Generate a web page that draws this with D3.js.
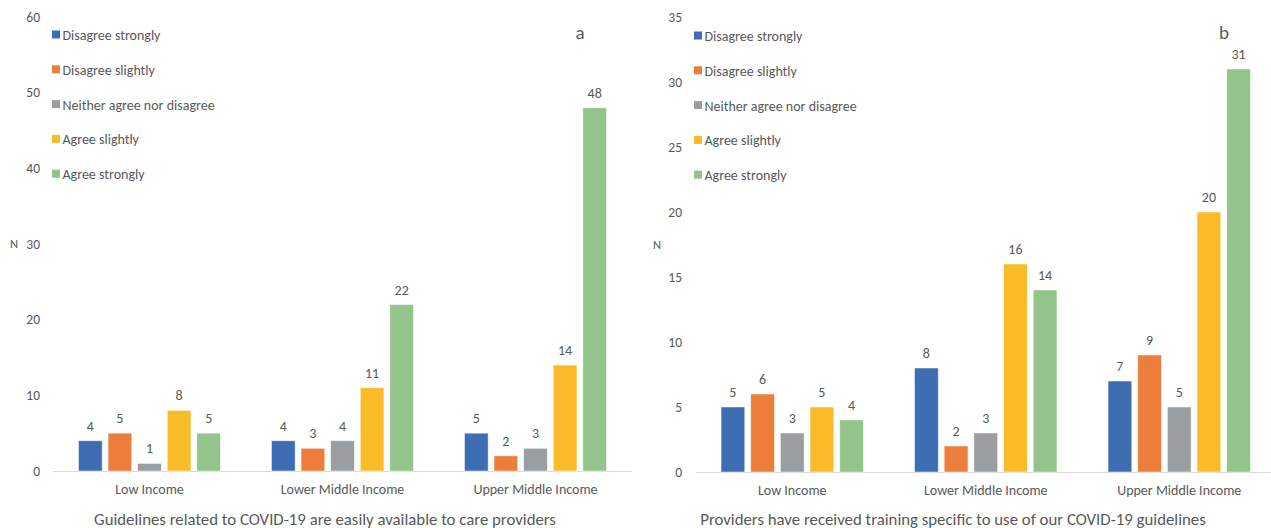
<!DOCTYPE html>
<html>
<head>
<meta charset="utf-8">
<script src="https://cdn.jsdelivr.net/npm/d3@7"></script>
<style>
  html, body { margin: 0; padding: 0; background: #fff; }
  svg { display: block; }
  text { font-family: Carlito, Lato, "Open Sans", sans-serif; fill: #595959; }
</style>
</head>
<body>
<svg id="chart" width="1271" height="528"></svg>
<script>
// Income groups and response categories
const categories = ["Low Income", "Lower Middle Income", "Upper Middle Income"];
const seriesNames = ["Disagree strongly", "Disagree slightly", "Neither agree nor disagree", "Agree slightly", "Agree strongly"];
const seriesColors = ["#3f6db4", "#ec7d3a", "#9b9ea1", "#f9bc28", "#93c48b"];

// Panel a: guidelines easily available (counts per income group, one array per response)
const availDisagreeStrongly = [4, 4, 5];
const availDisagreeSlightly = [5, 3, 2];
const availNeither = [1, 4, 3];
const availAgreeSlightly = [8, 11, 14];
const availAgreeStrongly = [5, 22, 48];
const availTicks = [0, 10, 20, 30, 40, 50, 60];

// Panel b: providers received training
const trainDisagreeStrongly = [5, 8, 7];
const trainDisagreeSlightly = [6, 2, 9];
const trainNeither = [3, 3, 5];
const trainAgreeSlightly = [5, 16, 20];
const trainAgreeStrongly = [4, 14, 31];
const trainTicks = [0, 5, 10, 15, 20, 25, 30, 35];

const FONT = "Carlito, Lato, 'Open Sans', sans-serif";
const svg = d3.select("#chart");

function drawPanel(opts) {
  const { series, ticks, yMax, x0, x1, yTop, yBottom, axisEnd, tickX, nX, letter, letterX, title, titleX, legendX, legendY } = opts;
  const g = svg.append("g");

  const y = d3.scaleLinear().domain([0, yMax]).range([yBottom, yTop]);
  const xGroup = d3.scaleBand().domain(categories).range([x0, x1]).paddingInner(0.264).paddingOuter(0.132);
  const xSeries = d3.scaleBand().domain(seriesNames).range([0, xGroup.bandwidth()]).paddingInner(0.2);

  // value axis labels (no axis line)
  const yAxis = d3.axisLeft(y).tickValues(ticks).tickSize(0).tickPadding(0);
  const ya = g.append("g").attr("transform", `translate(${tickX},0)`).call(yAxis);
  ya.select(".domain").remove();
  ya.selectAll("text").attr("font-size", 13.5).attr("fill", "#595959").style("font-family", FONT);

  g.append("text").attr("x", nX).attr("y", y(yMax / 2) + 4).attr("font-size", 12.5).attr("text-anchor", "middle").text("N");

  // category axis
  const xAxis = d3.axisBottom(xGroup).tickSize(0).tickPadding(13);
  const xa = g.append("g").attr("transform", `translate(0,${yBottom})`).call(xAxis);
  xa.select(".domain").attr("d", `M${x0},0.5H${axisEnd}`).attr("stroke", "#d9d9d9").attr("stroke-width", 1.2);
  xa.selectAll("text").attr("font-size", 14).attr("fill", "#595959").style("font-family", FONT);

  // bars
  const rows = [];
  series.forEach((vals, si) => vals.forEach((v, ci) => rows.push({ s: seriesNames[si], c: categories[ci], v, color: seriesColors[si] })));

  g.selectAll("rect.bar").data(rows).join("rect")
    .attr("class", "bar")
    .attr("x", d => xGroup(d.c) + xSeries(d.s))
    .attr("width", xSeries.bandwidth())
    .attr("y", d => y(d.v))
    .attr("height", d => y(0) - y(d.v))
    .attr("fill", d => d.color)
    .attr("stroke", "#ffffff")
    .attr("stroke-opacity", 0.6)
    .attr("stroke-width", 0.8);

  g.selectAll("text.val").data(rows).join("text")
    .attr("class", "val")
    .attr("x", d => xGroup(d.c) + xSeries(d.s) + xSeries.bandwidth() / 2)
    .attr("y", d => y(d.v) - 10)
    .attr("text-anchor", "middle")
    .attr("font-size", 14)
    .text(d => d.v);

  // legend
  const lg = g.append("g").attr("transform", `translate(${legendX},${legendY})`);
  seriesNames.forEach((name, i) => {
    const row = lg.append("g").attr("transform", `translate(0,${i * 34.8})`);
    row.append("rect").attr("x", 0).attr("y", -4.5).attr("width", 8).attr("height", 8).attr("fill", seriesColors[i]);
    row.append("text").attr("x", 10.5).attr("y", 5).attr("font-size", 14).text(name);
  });

  g.append("text").attr("x", letterX).attr("y", 39).attr("font-size", 19).attr("fill", "#000").attr("text-anchor", "middle").text(letter);
  g.append("text").attr("x", titleX).attr("y", 524.5).attr("font-size", 16.8).attr("fill", "#000").attr("text-anchor", "middle").text(title);
}

drawPanel({
  series: [availDisagreeStrongly, availDisagreeSlightly, availNeither, availAgreeSlightly, availAgreeStrongly],
  ticks: availTicks, yMax: 60,
  x0: 53, x1: 632, axisEnd: 632, yTop: 17, yBottom: 471,
  tickX: 40, nX: 14, letter: "a", letterX: 580,
  title: "Guidelines related to COVID-19 are easily available to care providers", titleX: 325,
  legendX: 52, legendY: 35
});

drawPanel({
  series: [trainDisagreeStrongly, trainDisagreeSlightly, trainNeither, trainAgreeSlightly, trainAgreeStrongly],
  ticks: trainTicks, yMax: 35,
  x0: 695.5, x1: 1276, axisEnd: 1271, yTop: 17, yBottom: 472,
  tickX: 682, nX: 657, letter: "b", letterX: 1224,
  title: "Providers have received training specific to use of our COVID-19 guidelines", titleX: 953,
  legendX: 694, legendY: 36
});
</script>
</body>
</html>
